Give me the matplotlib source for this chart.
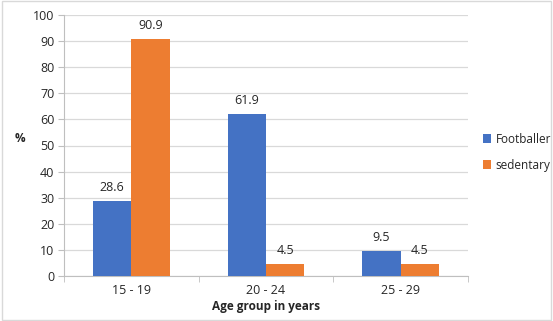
import matplotlib.pyplot as plt
import numpy as np

plt.rcParams['font.family'] = ['Open Sans', 'DejaVu Sans']

groups = ["15 - 19", "20 - 24", "25 - 29"]
footballer = [28.6, 61.9, 9.5]
sedentary = [90.9, 4.5, 4.5]

blue = "#4472c4"
orange = "#ed7d31"
txt = "#262626"

fig = plt.figure(figsize=(5.53, 3.21), dpi=100)
ax = fig.add_axes([64 / 553, 1 - 276 / 321, (468 - 64) / 553, (276 - 15) / 321])

x = np.arange(len(groups))
w = 0.285
b1 = ax.bar(x - w / 2, footballer, w, color=blue, label="Footballer", zorder=3)
b2 = ax.bar(x + w / 2, sedentary, w, color=orange, label="sedentary", zorder=3)
ax.bar_label(b1, fmt="%.1f", padding=5, fontsize=9, color=txt)
ax.bar_label(b2, fmt="%.1f", padding=5, fontsize=9, color=txt)

ax.set_xlim(-0.5, 2.5)
ax.set_ylim(0, 100)
ax.set_yticks(range(0, 101, 10))
ax.set_xticks(x)
ax.set_xticklabels(groups)
ax.set_xticks([-0.5, 0.5, 1.5, 2.5], minor=True)
ax.tick_params(axis="x", which="major", length=0, pad=6, labelsize=9, colors=txt)
ax.tick_params(axis="x", which="minor", length=4, color="#bfbfbf")
ax.tick_params(axis="y", length=4, color="#bfbfbf", labelsize=9, labelcolor=txt, pad=3)
ax.grid(axis="y", color="#d9d9d9", linewidth=0.9, zorder=0)

for s in ["top", "right"]:
    ax.spines[s].set_visible(False)
ax.spines["left"].set_color("#bfbfbf")
ax.spines["bottom"].set_color("#bfbfbf")

ax.set_xlabel("Age group in years", fontsize=8.5, fontweight="bold", color=txt, labelpad=2)
ax.set_ylabel("%", fontsize=8.5, fontweight="bold", color=txt, rotation=0)
ax.yaxis.set_label_coords(-0.11, 0.5)

ax.legend(loc="center left", bbox_to_anchor=(1.01, 0.475), frameon=False,
          fontsize=8.5, handlelength=0.7, handleheight=0.7, labelspacing=1.1,
          handletextpad=0.4, labelcolor=txt)

fig.patches.append(plt.Rectangle((0.004, 0.004), 0.992, 0.992, transform=fig.transFigure,
                                 fill=False, edgecolor="#d9d9d9", linewidth=1))

fig.savefig("out.png", dpi=100)
